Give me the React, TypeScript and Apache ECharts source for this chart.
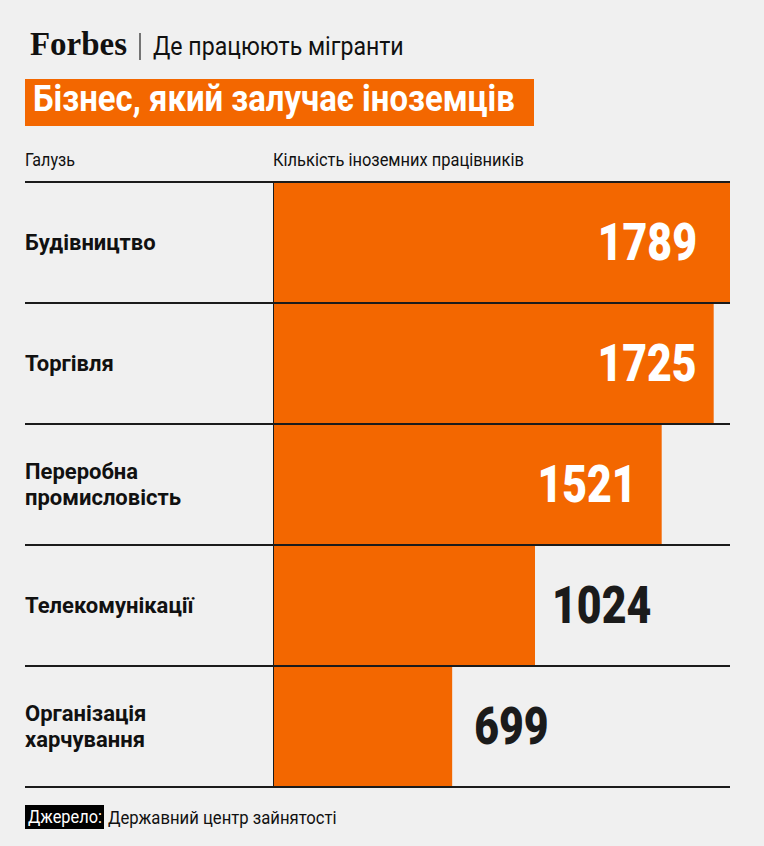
import React, { useEffect, useRef } from "react";
import * as echarts from "echarts";

const categories = [
  "Будівництво",
  "Торгівля",
  "Переробна\nпромисловість",
  "Телекомунікації",
  "Організація\nхарчування",
];
const values = [1789, 1725, 1521, 1024, 699];
const labelInside = [true, true, true, false, false];
const labelDistance = [33, 17, 25, 17, 22];

const W = 764;
const H = 846;
const GRID_LEFT = 274;
const GRID_RIGHT = 34;
const GRID_TOP = 182;
const GRID_BOTTOM = 59;
const ORANGE = "#f36700";
const DARK = "#1b1b1b";
const BG = "#f0f0f0";
const SANS = "Roboto";
const VALUE_SCALE = 0.84;

function fitScale(text: string, font: string, target: number): number {
  const t = new echarts.graphic.Text({ style: { text, font } });
  const w = t.getBoundingRect().width;
  return w > 0 ? target / w : 1;
}

function fitText(
  text: string,
  x: number,
  y: number,
  font: string,
  target: number,
  fill: string,
  z = 10
) {
  return {
    type: "text",
    x,
    y,
    scaleX: fitScale(text, font, target),
    z,
    style: { text, font, fill, align: "left", verticalAlign: "middle" },
  };
}

export default function App() {
  const ref = useRef<HTMLDivElement>(null);
  useEffect(() => {
    document.body.style.margin = "0";
    const chart = echarts.init(ref.current!, null, { renderer: "svg" });
    const rowH = (H - GRID_TOP - GRID_BOTTOM) / categories.length;
    const lines: any[] = [];
    for (let i = 0; i <= categories.length; i++) {
      const y = GRID_TOP + i * rowH;
      lines.push({
        type: "line",
        shape: { x1: 25, y1: y, x2: W - GRID_RIGHT, y2: y },
        style: { stroke: DARK, lineWidth: 2 },
        z: 100,
      });
    }
    chart.setOption({
      animation: false,
      backgroundColor: BG,
      grid: { left: GRID_LEFT, right: GRID_RIGHT, top: GRID_TOP, bottom: GRID_BOTTOM },
      xAxis: { type: "value", min: 0, max: 1789, show: false },
      yAxis: {
        type: "category",
        data: categories,
        inverse: true,
        axisLine: { show: true, lineStyle: { color: DARK, width: 2 } },
        axisTick: { show: false },
        axisLabel: {
          align: "left",
          margin: GRID_LEFT - 25,
          fontSize: 22,
          fontWeight: "bold",
          fontFamily: SANS,
          color: "#111",
          lineHeight: 26,
        },
      },
      series: [
        {
          type: "bar",
          barCategoryGap: 0,
          itemStyle: { color: ORANGE },
          data: values,
          z: 2,
        },
        {
          type: "custom",
          data: values.map((v, i) => [v, i]),
          encode: { x: 0, y: 1 },
          z: 5,
          renderItem: (params: any, api: any) => {
            const i = params.dataIndex;
            const v = api.value(0);
            const pt = api.coord([v, api.value(1)]);
            const inside = labelInside[i];
            return {
              type: "text",
              x: inside ? pt[0] - labelDistance[i] : pt[0] + labelDistance[i],
              y: pt[1],
              scaleX: VALUE_SCALE,
              style: {
                text: String(v),
                font: `900 51px ${SANS}`,
                fill: inside ? "#ffffff" : DARK,
                align: inside ? "right" : "left",
                verticalAlign: "middle",
              },
            };
          },
        },
      ],
      graphic: [
        ...lines,
        fitText("Forbes", 30, 43, 'bold 34px "Liberation Serif"', 97, "#111"),
        {
          type: "line",
          shape: { x1: 140, y1: 33, x2: 140, y2: 60 },
          style: { stroke: "#222", lineWidth: 1.2 },
        },
        fitText("Де працюють мігранти", 153, 46, `26px ${SANS}`, 251, "#111"),
        {
          type: "rect",
          shape: { x: 25, y: 79, width: 509, height: 47 },
          style: { fill: ORANGE },
        },
        fitText("Бізнес, який залучає іноземців", 33, 99, `bold 37px ${SANS}`, 482, "#ffffff"),
        fitText("Галузь", 25, 160, `19px ${SANS}`, 50, "#111"),
        fitText("Кількість іноземних працівників", 273, 160, `19px ${SANS}`, 251, "#111"),
        {
          type: "rect",
          shape: { x: 25, y: 805, width: 79, height: 24 },
          style: { fill: "#000" },
        },
        fitText("Джерело:", 28, 817, `19px ${SANS}`, 74, "#ffffff", 11),
        fitText("Державний центр зайнятості", 108, 817, `19px ${SANS}`, 229, "#111"),
      ],
    });
    return () => chart.dispose();
  }, []);
  return <div ref={ref} style={{ width: W, height: H }} />;
}
